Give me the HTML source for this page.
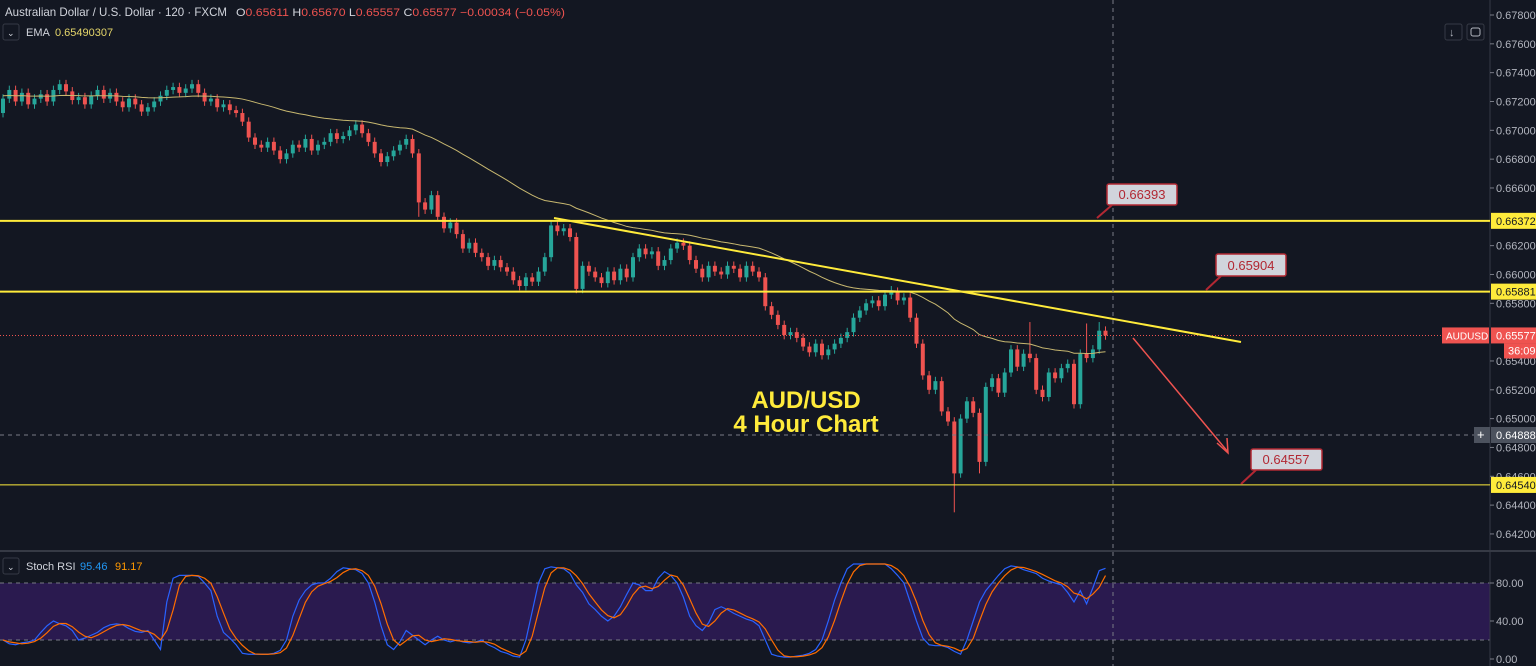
<!DOCTYPE html>
<html><head><meta charset="utf-8"><style>
html,body{margin:0;padding:0;background:#131722;overflow:hidden}
svg{display:block;font-family:"Liberation Sans",sans-serif}
</style></head><body>
<svg id="c" width="1536" height="666" xmlns="http://www.w3.org/2000/svg">
<rect width="1536" height="666" fill="#131722"/>
<rect x="0" y="583" width="1490" height="57" fill="#2a1a4f"/>
<line x1="0" y1="583" x2="1490" y2="583" stroke="#787b86" stroke-dasharray="4,4"/>
<line x1="0" y1="640" x2="1490" y2="640" stroke="#787b86" stroke-dasharray="4,4"/>
<line x1="0" y1="551" x2="1536" y2="551" stroke="#363a45" stroke-width="2"/>
<line x1="1490" y1="0" x2="1490" y2="666" stroke="#363a45"/>
<g id="candles"></g>
<polyline id="ema" fill="none" stroke="#c8b870" stroke-width="1"/>
<g id="levels"></g>
<polyline id="stk" fill="none" stroke="#2962ff" stroke-width="1.2"/>
<polyline id="std" fill="none" stroke="#ff6d00" stroke-width="1.2"/>
<line x1="1113" y1="0" x2="1113" y2="666" stroke="#787b86" stroke-dasharray="4,4"/>
<line x1="0" y1="435" x2="1490" y2="435" stroke="#787b86" stroke-dasharray="4,4"/>
<line x1="554" y1="218" x2="1241" y2="342" stroke="#ffeb3b" stroke-width="2"/>
<line x1="1133" y1="338" x2="1228" y2="452" stroke="#ef5350" stroke-width="1.5"/>
<polyline points="1217,443 1228,453 1227,438" fill="none" stroke="#ef5350" stroke-width="1.5"/>
<g><line x1="1097" y1="218" x2="1112" y2="205" stroke="#b22833" stroke-width="2"/><rect x="1107" y="184" width="70" height="21" rx="2" fill="#d1d4dc" stroke="#b22833" stroke-width="1.5"/><text x="1142" y="199" fill="#b22833" font-size="13" text-anchor="middle">0.66393</text></g>
<g><line x1="1206" y1="290" x2="1221" y2="276" stroke="#b22833" stroke-width="2"/><rect x="1216" y="254" width="70" height="22" rx="2" fill="#d1d4dc" stroke="#b22833" stroke-width="1.5"/><text x="1251" y="270" fill="#b22833" font-size="13" text-anchor="middle">0.65904</text></g>
<g><line x1="1241" y1="484" x2="1256" y2="470" stroke="#b22833" stroke-width="2"/><rect x="1251" y="449" width="71" height="21" rx="2" fill="#d1d4dc" stroke="#b22833" stroke-width="1.5"/><text x="1286" y="464" fill="#b22833" font-size="13" text-anchor="middle">0.64557</text></g>
<text x="806" y="408" fill="#ffeb3b" font-size="24" font-weight="bold" text-anchor="middle">AUD/USD</text>
<text x="806" y="432" fill="#ffeb3b" font-size="24" font-weight="bold" text-anchor="middle">4 Hour Chart</text>
<g id="axis" font-size="11" fill="#b2b5be"></g>
<g font-size="11">
<text x="5" y="16" fill="#d1d4dc" font-size="12" textLength="222" lengthAdjust="spacingAndGlyphs">Australian Dollar / U.S. Dollar · 120 · FXCM</text>
<text x="236" y="16" textLength="329" lengthAdjust="spacingAndGlyphs"><tspan fill="#d1d4dc">O</tspan><tspan fill="#ef5350">0.65611 </tspan><tspan fill="#d1d4dc">H</tspan><tspan fill="#ef5350">0.65670 </tspan><tspan fill="#d1d4dc">L</tspan><tspan fill="#ef5350">0.65557 </tspan><tspan fill="#d1d4dc">C</tspan><tspan fill="#ef5350">0.65577 −0.00034 (−0.05%)</tspan></text>
<rect x="3" y="24" width="16" height="16" rx="2" fill="none" stroke="#363a45"/>
<text x="7" y="36" fill="#d1d4dc" font-size="9">⌄</text>
<text x="26" y="36" fill="#d1d4dc">EMA</text>
<text x="55" y="36" fill="#e5d66a">0.65490307</text>
<rect x="3" y="558" width="16" height="16" rx="2" fill="none" stroke="#363a45"/>
<text x="7" y="570" fill="#d1d4dc" font-size="9">⌄</text>
<text x="26" y="570" fill="#d1d4dc">Stoch RSI</text>
<text x="80" y="570" fill="#2196f3">95.46</text>
<text x="115" y="570" fill="#ff9800">91.17</text>
<rect x="1445" y="24" width="17" height="16" rx="2" fill="none" stroke="#363a45"/>
<text x="1449" y="36" fill="#b2b5be">↓</text>
<rect x="1467" y="24" width="17" height="16" rx="2" fill="none" stroke="#363a45"/>
<rect x="1471" y="28" width="9" height="8" rx="2" fill="none" stroke="#b2b5be"/>
</g>
</svg>
<script>
const closes=[0.6722,0.6728,0.6720,0.6726,0.6718,0.6722,0.6725,0.6720,0.6728,0.6732,
0.6727,0.6721,0.6723,0.6718,0.6724,0.6728,0.6722,0.6726,0.6720,0.6716,
0.6722,0.6718,0.6713,0.6716,0.6720,0.6724,0.6728,0.6730,0.6726,0.6729,
0.6732,0.6726,0.6720,0.6722,0.6716,0.6718,0.6714,0.6712,0.6706,0.6695,
0.6690,0.6688,0.6692,0.6686,0.6680,0.6684,0.6690,0.6688,0.6694,0.6686,
0.6690,0.6692,0.6698,0.6694,0.6696,0.6700,0.6704,0.6698,0.6692,0.6684,
0.6678,0.6682,0.6686,0.6690,0.6694,0.6684,0.6650,0.6645,0.6655,0.6640,
0.6632,0.6636,0.6628,0.6618,0.6622,0.6615,0.6612,0.6606,0.6610,0.6605,
0.6602,0.6596,0.6592,0.6598,0.6595,0.6602,0.6612,0.6634,0.6630,0.6632,
0.6626,0.6590,0.6606,0.6602,0.6598,0.6594,0.6602,0.6596,0.6604,0.6598,
0.6612,0.6618,0.6614,0.6616,0.6606,0.6610,0.6618,0.6622,0.6620,0.6610,
0.6604,0.6598,0.6606,0.6602,0.6600,0.6606,0.6604,0.6598,0.6606,0.6602,
0.6598,0.6578,0.6572,0.6565,0.6558,0.6560,0.6556,0.6550,0.6546,0.6552,
0.6544,0.6548,0.6552,0.6556,0.6560,0.6570,0.6575,0.6580,0.6582,0.6578,
0.6586,0.6588,0.6582,0.6584,0.6570,0.6552,0.6530,0.6520,0.6526,0.6505,
0.6498,0.6462,0.6500,0.6512,0.6504,0.6470,0.6522,0.6528,0.6518,0.6532,
0.6548,0.6536,0.6545,0.6542,0.6520,0.6515,0.6532,0.6528,0.6535,0.6538,
0.6510,0.6545,0.6542,0.6548,0.6561,0.65577];
const firstOpen=0.6712;
const wickLows={151:0.6435,155:0.6462,66:0.6640};
const wickHighs={87:0.6637,141:0.6592,163:0.6567,172:0.6566,174:0.6567};
const stochK=[20,16,15,17,18,20,28,35,40,37,35,30,20,22,25,28,33,36,37,36,32,29,28,30,20,10,60,85,88,88,88,87,80,72,45,28,22,15,6,5,5,5,5,6,9,20,45,62,72,78,80,80,85,92,96,95,94,90,80,60,35,15,10,18,30,25,20,15,20,24,20,18,20,18,17,18,20,15,12,8,6,3,2,20,50,80,95,97,96,95,90,78,70,58,52,45,40,45,55,68,80,78,72,72,85,92,88,80,65,45,35,30,38,52,55,52,48,45,42,40,35,20,5,3,2,2,3,4,6,10,20,40,62,80,95,100,100,100,100,100,100,95,88,80,60,40,22,15,14,14,12,8,5,20,40,60,72,80,88,95,98,97,94,92,90,85,82,80,78,70,60,72,58,75,93,95.46];
const priceTicks=[0.678,0.676,0.674,0.672,0.670,0.668,0.666,0.662,0.660,0.658,0.654,0.652,0.650,0.648,0.646,0.644,0.642];
const levelPrices=[0.66372,0.65881,0.64540];
const levelWidths=[2,2,1];
const stochTicks=[80,40,0];

const NS='http://www.w3.org/2000/svg';
const yP=p=>15+(0.678-p)/0.002*28.83;
const xI=i=>3+i*6.3;
const yS=v=>659-v*0.95;
function mk(t,a,parent){const e=document.createElementNS(NS,t);for(const k in a)e.setAttribute(k,a[k]);parent.appendChild(e);return e;}
const cg=document.getElementById('candles');
closes.forEach((c,i)=>{
 const o=i===0?firstOpen:closes[i-1];
 const up=c>=o, col=up?'#26a69a':'#ef5350';
 const hi=wickHighs[i]!==undefined?wickHighs[i]:Math.max(o,c)+0.0003;
 const lo=wickLows[i]!==undefined?wickLows[i]:Math.min(o,c)-0.0003;
 const g=mk('g',{},cg);
 
 
 mk('line',{x1:xI(i),x2:xI(i),y1:yP(hi),y2:yP(lo),stroke:col,'stroke-width':1},g);
 const t=Math.min(yP(o),yP(c)),h=Math.max(1,Math.abs(yP(o)-yP(c)));
 mk('rect',{x:xI(i)-2,y:t,width:4,height:h,fill:col},g);
});
let e=closes[0],pts=[];const k=2/51;
closes.forEach((c,i)=>{e=i===0?c+0.0002:c*k+e*(1-k);pts.push(xI(i)+','+yP(e));});
document.getElementById('ema').setAttribute('points',pts.join(' '));
const lg=document.getElementById('levels');
levelPrices.forEach((p,i)=>{
 const l=mk('line',{x1:0,x2:1490,y1:yP(p),y2:yP(p),stroke:'#ffeb3b','stroke-width':levelWidths[i]},lg);
 
 
});
mk('line',{x1:0,x2:1490,y1:yP(closes[closes.length-1]),y2:yP(closes[closes.length-1]),stroke:'#ef5350','stroke-dasharray':'1,2'},lg);
document.getElementById('stk').setAttribute('points',stochK.map((v,i)=>xI(i)+','+yS(v)).join(' '));
const stochD=stochK.map((v,i)=>{const a=stochK.slice(Math.max(0,i-2),i+1);return a.reduce((s,x)=>s+x,0)/a.length;});
document.getElementById('std').setAttribute('points',stochD.map((v,i)=>xI(i)+','+yS(v)).join(' '));
const ax=document.getElementById('axis');
priceTicks.forEach(p=>{
 mk('line',{x1:1490,x2:1494,y1:yP(p),y2:yP(p),stroke:'#787b86'},ax);
 const t=mk('text',{x:1496,y:yP(p)+4},ax);t.textContent=p.toFixed(5);
 
 
});
stochTicks.forEach(v=>{
 mk('line',{x1:1490,x2:1494,y1:yS(v),y2:yS(v),stroke:'#787b86'},ax);
 const t=mk('text',{x:1496,y:yS(v)+4},ax);t.textContent=v.toFixed(2);
 
 
});
levelPrices.forEach(p=>{
 const r=mk('rect',{x:1491,y:yP(p)-8,width:45,height:16,fill:'#ffeb3b'},ax);
 
 
 const t=mk('text',{x:1496,y:yP(p)+4,fill:'#131722'},ax);t.textContent=p.toFixed(5);
});
const lc=closes[closes.length-1];
mk('rect',{x:1491,y:yP(lc)-8,width:45,height:16,fill:'#ef5350'},ax);
const lt=mk('text',{x:1496,y:yP(lc)+4,fill:'#fff'},ax);lt.textContent=lc.toFixed(5);


mk('rect',{x:1504,y:yP(lc)+8,width:32,height:15,fill:'#ef5350'},ax);
const tt=mk('text',{x:1508,y:yP(lc)+19,fill:'#fff'},ax);tt.textContent='36:09';
mk('rect',{x:1442,y:yP(lc)-8,width:47,height:16,fill:'#ef5350'},ax);
const st=mk('text',{x:1446,y:yP(lc)+4,fill:'#fff','font-size':'10'},ax);st.textContent='AUDUSD';


mk('rect',{x:1491,y:427,width:45,height:16,fill:'#4c525e'},ax);
const ct=mk('text',{x:1496,y:439,fill:'#fff'},ax);ct.textContent='0.64888';
mk('rect',{x:1474,y:427,width:16,height:16,fill:'#4c525e'},ax);
const pl=mk('text',{x:1477,y:439,fill:'#fff','font-size':'13'},ax);pl.textContent='+';
</script>
</body></html>
